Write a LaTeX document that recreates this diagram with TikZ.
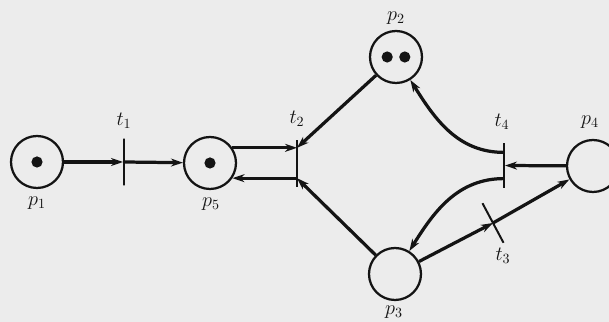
\documentclass[tikz,border=0pt]{standalone}
\usetikzlibrary{arrows.meta, calc, positioning}
\definecolor{paper}{RGB}{236, 236, 236}
\definecolor{ink}{RGB}{20, 20, 20}
\tikzset{
    place/.style={draw=ink, circle, line width=1.6pt, minimum size=13mm, inner sep=0pt},
    trans/.style={draw=ink, rectangle, line width=1.4pt, minimum width=0pt, minimum height=11.7mm, inner sep=0pt},
    token/.style={fill=ink, circle, minimum size=2.8mm, inner sep=0pt},
    arc/.style={-{Stealth[length=3mm, width=2mm]}, line width=2.3pt, draw=ink},
    lbl/.style={font=\Large, text=ink, inner sep=0pt},
}
\begin{document}
\begin{tikzpicture}[x=0.25mm, y=-0.25mm]
    \fill[paper] (0,0) rectangle (609,322);
    \useasboundingbox (0,0) rectangle (609,322);

    % Places
    \node[place] (p1) at (37,162) {};
    \node[place] (p5) at (210,163) {};
    \node[place] (p2) at (396,57) {};
    \node[place] (p3) at (395,274) {};
    \node[place] (p4) at (593,166) {};

    % Tokens
    \node[token] (p1tok) at (p1.center) {};
    \node[token] (p5tok) at (p5.center) {};
    \node[token] (p2toka) at ([xshift=-2.2mm]p2.center) {};
    \node[token] (p2tokb) at ([xshift=2.2mm]p2.center) {};

    % Transitions
    \node[trans] (t1) at (124,162) {};
    \node[trans] (t2) at (297,163.5) {};
    \node[trans, minimum height=11.2mm] (t4) at (504,165.5) {};
    \node[trans, minimum height=11.2mm, rotate=28] (t3) at (493,223) {};

    % Labels
    \node[lbl] (lp1) at (37,203) {$p_1$};
    \node[lbl] (lp5) at (211,204) {$p_5$};
    \node[lbl] (lp2) at (396,18) {$p_2$};
    \node[lbl] (lp3) at (394,312) {$p_3$};
    \node[lbl] (lp4) at (590,122) {$p_4$};
    \node[lbl] (lt1) at (124,121) {$t_1$};
    \node[lbl] (lt2) at (297,119) {$t_2$};
    \node[lbl] (lt4) at (502,122) {$t_4$};
    \node[lbl] (lt3) at (503,256) {$t_3$};

    % Attachment points on the bars
    \coordinate (t2up) at (p5.34 -| t2);
    \coordinate (t2dn) at (p5.-34 -| t2);
    \coordinate (t4up) at ($(t4.north)!0.22!(t4.south)$);
    \coordinate (t4dn) at ($(t4.north)!0.78!(t4.south)$);

    % Arcs
    \draw[arc] (p1) -- (t1);
    \draw[arc] (t1) -- (p5);
    \draw[arc] (p5.34) -- (t2up);
    \draw[arc] (t2dn) -- (p5.-34);
    \draw[arc] (p2) -- (t2up);
    \draw[arc] (p3) -- (t2dn);
    \draw[arc] (p4) -- (t4);
    \draw[arc] (t4up) to[out=180, in=-58] (p2.-58);
    \draw[arc] (t4dn) to[out=180, in=58] (p3.58);
    \draw[arc] (p3) -- (t3.center);
    \draw[arc] (t3.center) -- (p4);
\end{tikzpicture}
\end{document}
